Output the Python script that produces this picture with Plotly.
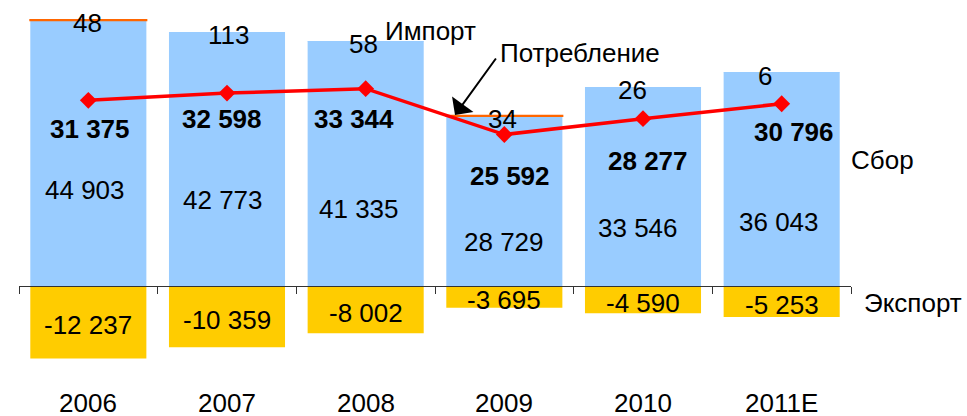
import plotly.graph_objects as go

years = ["2006", "2007", "2008", "2009", "2010", "2011E"]
sbor = [44903, 42773, 41335, 28729, 33546, 36043]
imp = [48, 113, 58, 34, 26, 6]
exp_ = [-12237, -10359, -8002, -3695, -4590, -5253]
potr = [31375, 32598, 33344, 25592, 28277, 30796]

BLUE = "#99CCFF"
GOLD = "#FFCC00"
ORANGE = "#FF6600"
RED = "#FF0000"
FONT = "Liberation Sans, Arial, sans-serif"
FS = 26

def fmt(v):
    s = f"{abs(v):,}".replace(",", " ")
    return ("-" if v < 0 else "") + s

# layout geometry
W, H = 967, 416
ML, MR, MT, MB = 19, 116, 10, 26
YR = [-17573, 46638]
plot_h = H - MT - MB
zero_pos = (0 - YR[0]) / (YR[1] - YR[0])
xi = list(range(len(years)))

fig = go.Figure()
fig.add_trace(go.Bar(x=xi, y=sbor, name="Сбор", marker=dict(color=BLUE, line=dict(width=0))))
imp_show = [True, False, False, True, False, False]
fig.add_trace(go.Bar(
    x=xi, y=imp, name="Импорт",
    marker=dict(color=[ORANGE if s else BLUE for s in imp_show],
                line=dict(color=ORANGE, width=[2 if s else 0 for s in imp_show])),
))
fig.add_trace(go.Bar(x=xi, y=exp_, name="Экспорт", marker=dict(color=GOLD, line=dict(width=0))))
fig.add_trace(go.Scatter(
    x=xi, y=potr, name="Потребление", mode="lines+markers",
    line=dict(color=RED, width=3.5),
    marker=dict(symbol="diamond", size=13, color=RED),
))

def px(xp):
    return (xp - ML) / (W - ML - MR)
def py(yp):
    return (H - MB - yp) / plot_h

def font():
    return dict(size=FS, color="black", family=FONT)

ann = []
# Сбор labels
sbor_dx = [-3, -4, -7, 0, -5, -3]
sbor_dy = [-37, -41, -45, -41, -41, -43]
for i in xi:
    ann.append(dict(x=i, y=sbor[i] / 2, text=fmt(sbor[i]), showarrow=False,
                    xshift=sbor_dx[i], yshift=sbor_dy[i], font=font()))
# Импорт labels
imp_dx = [-1, 1, -2, -2, -11, -17]
for i in xi:
    ann.append(dict(x=i, y=sbor[i] + imp[i], text=fmt(imp[i]), showarrow=False,
                    xshift=imp_dx[i], yshift=-3, font=font()))
# Экспорт labels
for i in xi:
    ann.append(dict(x=i, y=exp_[i] / 2, text=fmt(exp_[i]), showarrow=False,
                    yshift=-3, font=font()))
# Потребление labels
p_dx = [2, -5, -12, 6, 5, 12]
p_dy = [-29, -26, -30, -41, -42, -28]
for i in xi:
    ann.append(dict(x=i, y=potr[i], text="<b>" + fmt(potr[i]) + "</b>", showarrow=False,
                    xshift=p_dx[i], yshift=p_dy[i], font=font()))
# year labels
for i in xi:
    ann.append(dict(x=i, y=py(403), xref="x", yref="paper",
                    text=years[i], showarrow=False, font=font()))
# series names
ann.append(dict(x=px(882), y=py(160), xref="paper", yref="paper", text="Сбор",
                showarrow=False, font=font()))
ann.append(dict(x=px(913), y=py(303), xref="paper", yref="paper", text="Экспорт",
                showarrow=False, font=font()))
ann.append(dict(x=px(430), y=py(31), xref="paper", yref="paper", text="Импорт",
                showarrow=False, font=font()))
ann.append(dict(x=px(580), y=py(53), xref="paper", yref="paper", text="Потребление",
                showarrow=False, font=font()))
for a in ann:
    a["xanchor"] = "center"
    a["yanchor"] = "middle"
# arrow
ann.append(dict(x=px(455), y=py(115), xref="paper", yref="paper", text="", showarrow=True,
                ax=42, ay=-58, arrowhead=1, arrowsize=2.2, arrowwidth=2, arrowcolor="black",
                standoff=0))

fig.update_layout(
    width=W, height=H,
    margin=dict(l=ML, r=MR, t=MT, b=MB, pad=0, autoexpand=False),
    barmode="relative", bargap=0.163,
    plot_bgcolor="white", paper_bgcolor="white",
    showlegend=False,
    annotations=ann,
    xaxis=dict(anchor="free", position=zero_pos,
               showline=True, linecolor="#333333", linewidth=1,
               ticks="outside", tickmode="array", tickvals=[i - 0.5 for i in range(len(years) + 1)],
               ticklen=7, tickcolor="#333333",
               showticklabels=False, showgrid=False, zeroline=False,
               range=[-0.5, len(years) - 0.5]),
    yaxis=dict(range=YR, visible=False, showgrid=False, zeroline=False),
)

fig.write_html("out.html", config={"displayModeBar": False},
               post_script="document.body.style.margin='0';document.body.style.overflow='hidden';")
